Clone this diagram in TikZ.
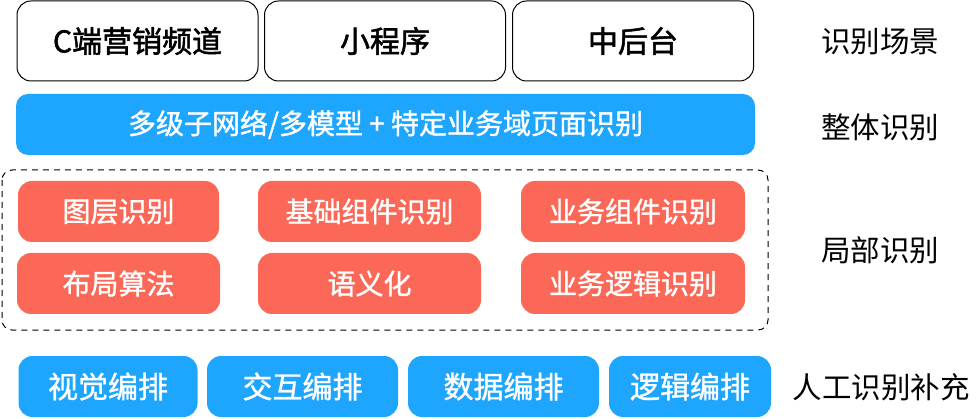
\documentclass[tikz,border=0pt]{standalone}
\usepackage{fontspec}
\setmainfont{Noto Sans CJK SC}
\newfontfamily\cjkm[FakeBold=1.2]{Noto Sans CJK SC}
\newfontfamily\cjkb[FakeBold=1.8]{Noto Sans CJK SC}
\usepackage{tikz}
\usetikzlibrary{positioning}
\definecolor{lanse}{RGB}{30,166,255}
\definecolor{hongse}{RGB}{252,104,88}
\tikzset{
  changjing/.style={draw=black,line width=1pt,rounded corners=14pt,minimum width=241pt,minimum height=80pt,inner sep=0pt,font=\cjkb\fontsize{30}{30}\selectfont},
  zhengti/.style={fill=lanse,rounded corners=12pt,minimum width=739pt,minimum height=61pt,inner sep=0pt,text=white,font=\cjkm\fontsize{28}{28}\selectfont},
  jubu/.style={fill=hongse,rounded corners=14pt,minimum height=61pt,inner sep=0pt,text=white,font=\cjkm\fontsize{28}{28}\selectfont},
  bianpai/.style={fill=lanse,rounded corners=14pt,minimum height=61pt,inner sep=0pt,text=white,font=\cjkm\fontsize{30}{30}\selectfont},
  biaoqian/.style={inner sep=0pt,font=\fontsize{29.5}{29.5}\selectfont}
}
\begin{document}
\begin{tikzpicture}[x=1pt,y=-1pt]
\useasboundingbox (0,0) rectangle (979,419);
% 识别场景
\foreach \x/\t [count=\i] in {137.5/C端营销频道,385/小程序,633/中后台}{
  \node[changjing] (cj\i) at (\x,41) {\t};}
% 整体识别
\node[zhengti] (zt) at (385.5,124.5) {多级子网络/多模型 + 特定业务域页面识别};
% 局部识别
\draw[line width=1pt,dash pattern=on 6pt off 5pt,rounded corners=10pt] (2,170) rectangle (768,330);
\foreach \x/\w/\t [count=\i] in {118.5/201/图层识别,369.5/223/基础组件识别,633/224/业务组件识别}{
  \node[jubu,minimum width=\w pt] (jb\i) at (\x,211.5) {\t};}
\foreach \x/\w/\t [count=\i] in {118.5/203/布局算法,369.5/223/语义化,633/224/业务逻辑识别}{
  \node[jubu,minimum width=\w pt] (jc\i) at (\x,283.5) {\t};}
% 人工识别补充
\foreach \x/\w/\t [count=\i] in {108/179/视觉编排,302.5/191/交互编排,503.5/191/数据编排,690/162/逻辑编排}{
  \node[bianpai,minimum width=\w pt] (bp\i) at (\x,386.5) {\t};}
% 右侧标签
\node[biaoqian] (bq1) at (880,42) {识别场景};
\node[biaoqian] (bq2) at (880,127) {整体识别};
\node[biaoqian] (bq3) at (880,250) {局部识别};
\node[biaoqian] (bq4) at (881,387) {人工识别补充};
\end{tikzpicture}
\end{document}
